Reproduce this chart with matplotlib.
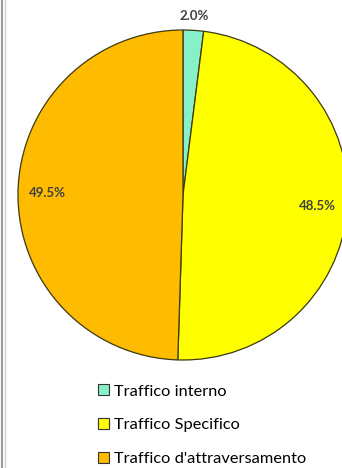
import numpy as np
import matplotlib.pyplot as plt
from matplotlib.patches import Patch

labels = ["Traffico interno", "Traffico Specifico", "Traffico d'attraversamento"]
values = [2.0, 48.5, 49.5]
colors = ["#88F0C8", "#FFFF00", "#FFBB00"]

plt.rcParams['font.family'] = ['Lato', 'DejaVu Sans']

W, H = 342, 468
fig = plt.figure(figsize=(W / 100, H / 100), dpi=100)
ax = fig.add_axes([0, 0, 1, 1])
ax.set_xlim(0, W)
ax.set_ylim(0, H)
ax.axis('off')

cx, cy, r = 183, H - 195, 165
wedges, texts, autotexts = ax.pie(
    values, colors=colors, startangle=90, counterclock=False,
    center=(cx, cy), radius=r, autopct='%1.1f%%', pctdistance=0.82,
    wedgeprops=dict(edgecolor='#3a3a10', linewidth=0.9),
    textprops=dict(fontsize=9.5, color='#404040', fontweight='bold'))
ax.set_xlim(0, W)
ax.set_ylim(0, H)
ax.set_aspect('equal')

# small slice label sits outside the pie
tx, ty = autotexts[0].get_position()
k = 1.085 / 0.82
autotexts[0].set_position((cx + (tx - cx) * k, cy + (ty - cy) * k))

# left border of the screenshot
ax.plot([2, 2], [0, H], color='#9a9a9a', lw=1.5)
ax.plot([5, 5], [0, H], color='#d0d0d0', lw=1)

handles = [Patch(facecolor=c, edgecolor='#333333', linewidth=0.8) for c in colors]
ax.legend(handles, labels, loc='upper left', bbox_to_anchor=(0.264, 0.196),
          frameon=False, fontsize=11.8, handlelength=0.62, handleheight=0.62,
          handletextpad=0.3, labelspacing=1.2, borderpad=0)

fig.savefig('out.png', dpi=100)
